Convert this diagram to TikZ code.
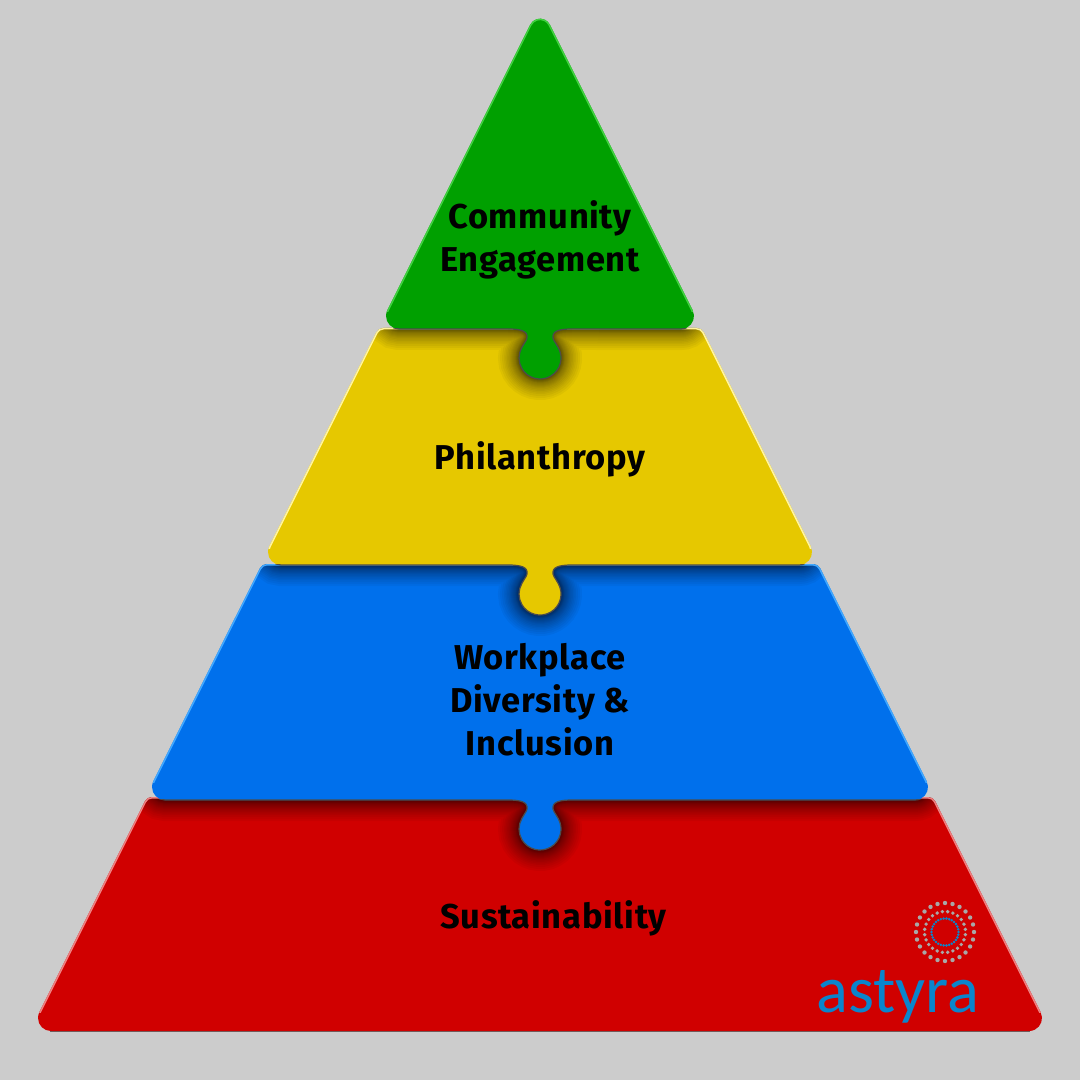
\documentclass[tikz,border=0pt]{standalone}
\usepackage{fontspec}
\newfontfamily\piecefont{Fira Sans}[LetterSpace=2]
\newfontfamily\logofont{Carlito}
\definecolor{bgcolor}{HTML}{CCCCCC}
\definecolor{greencolor}{HTML}{00A000}
\definecolor{yellowcolor}{HTML}{E6C800}
\definecolor{bluecolor}{HTML}{0070EC}
\definecolor{redcolor}{HTML}{D00000}
\definecolor{greenrim}{HTML}{40D040}
\definecolor{yellowrim}{HTML}{FFF4A0}
\definecolor{bluerim}{HTML}{40A8FF}
\definecolor{redrim}{HTML}{EE8080}
\definecolor{logocolor}{HTML}{0A85CC}
\definecolor{dotcolor}{HTML}{A8A8A8}
% neck and round end of a puzzle tab, from right to left
\newcommand{\tabat}[1]{-- (572,#1) .. controls (559,#1) and (552,{#1+2}) .. (553,{#1+9})
	.. controls (554,{#1+13}) and (557,{#1+15}) .. (558.2,{#1+18.5}) arc (-30:210:21)
	.. controls (523,{#1+15}) and (526,{#1+13}) .. (527,{#1+9})
	.. controls (528,{#1+2}) and (521,#1) .. (508,#1)}
% half width on top, half width below, top, foot, what the foot carries
\newcommand{\piecepath}[5]{({540-#1+4.95},#3) -- ({540+#1-4.95},#3) arc (270:333.4:8)
	-- ({540+#2-9.4},{#4-18.8}) arc (333.4:450:13) #5 -- ({540-#2+21},#4) arc (90:206.6:13)
	-- ({540-#1-2.2},{#3+4.4}) arc (206.6:270:8) -- cycle}
\newcommand{\greenpath}{(530.2,24.7) arc (206.6:333.4:11) -- ({702-9.4},{329-18.8}) arc (333.4:450:13) \tabat{329} -- (399,329) arc (90:206.6:13) -- cycle}
\newcommand{\yellowpath}{\piecepath{161.5}{280}{328}{565}{\tabat{565}}}
\newcommand{\bluepath}{\piecepath{278}{396}{564}{800}{\tabat{800}}}
\newcommand{\redpath}{\piecepath{393}{510}{797}{1031}{}}
% shadow of #1 falling on the piece below it
\newcommand{\castshadow}[1]{\foreach \w in {1,2,3,4,5,6,7,8,10,12,14,16,18,21,24,27,30,34,38,42} {\draw[black,opacity=.04,line width=\w*0.01cm] #1;}}
% light rim on the slanted sides
\newcommand{\piecerim}[3]{\scope
		\clip #1;
		\scope
			\clip (0,0) rectangle (1080,#3);
			\draw[#2,line width=.03cm] #1;
		\endscope
	\endscope}
% thin dark line under the foot and round the tab
\newcommand{\tabrim}[2]{\scope
		\clip (0,#2) rectangle (1080,#2+60);
		\draw[black!70,line width=.012cm] #1;
	\endscope}
\tikzset{
	piecetext/.style={font=\piecefont\bfseries\fontsize{9.8}{12.25}\selectfont,align=center,text=black},
}
\begin{document}
\begin{tikzpicture}[x=.01cm,y=-.01cm]
	\fill[bgcolor] (0,0) rectangle (1080,1080);

	%red
	\draw[black!60,line width=.012cm] (50,1031.5) -- (1030,1031.5);
	\fill[redcolor] \redpath;
	\scope
		\clip \redpath;
		\castshadow{\bluepath}
	\endscope
	\piecerim{\redpath}{redrim}{1012}

	%blue
	\fill[bluecolor] \bluepath;
	\scope
		\clip \bluepath;
		\castshadow{\yellowpath}
	\endscope
	\piecerim{\bluepath}{bluerim}{782}
	\tabrim{\bluepath}{799.5}

	%yellow
	\fill[yellowcolor] \yellowpath;
	\scope
		\clip \yellowpath;
		\castshadow{\greenpath}
	\endscope
	\piecerim{\yellowpath}{yellowrim}{548}
	\tabrim{\yellowpath}{564.5}

	%green
	\fill[greencolor] \greenpath;
	\piecerim{\greenpath}{greenrim}{312}
	\tabrim{\greenpath}{328.5}

	%labels
	\node[piecetext] (community) at (540,239.5) {Community\\Engagement};
	\node[piecetext] (philanthropy) at (540,459.5) {Philanthropy};
	\node[piecetext] (workplace) at (540,700) {Workplace\\Diversity \&\\Inclusion};
	\node[piecetext] (sustainability) at (553.5,918.5) {Sustainability};

	%logo
	\foreach \a in {0,15,...,345} {
		\fill[dotcolor] (945,932) ++(\a:29) circle (2.2);
		\fill[dotcolor] (945,932) ++(\a+7.5:20.5) circle (1.9);
	}
	\foreach \a in {0,12,...,348} {
		\fill[logocolor] (945,932) ++(\a:13.5) circle (1.4);
	}
	\node[anchor=base,inner sep=0pt,text=logocolor,font=\logofont\fontsize{18.9}{20}\selectfont] (logo) at (898,1012) {astyra};
\end{tikzpicture}
\end{document}
